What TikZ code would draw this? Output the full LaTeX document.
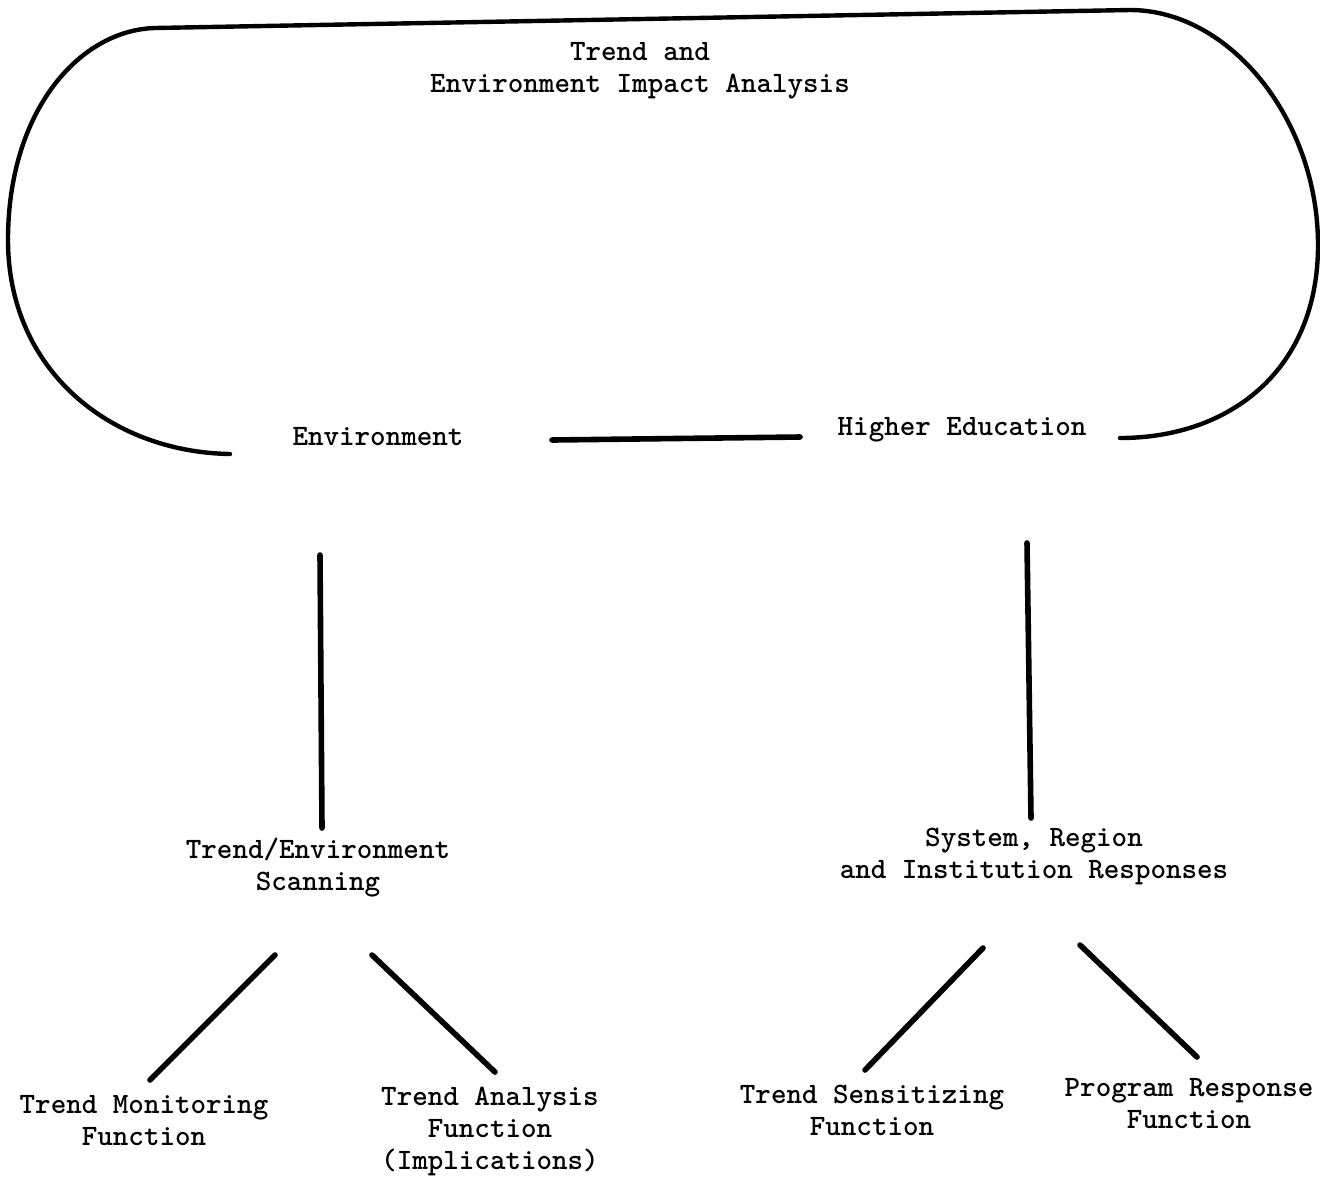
\documentclass[tikz,border=0pt]{standalone}
\usepackage{fontspec}
\tikzset{
  label/.style={font=\fontsize{14.8}{16}\selectfont\ttfamily\bfseries, align=center, inner sep=0pt},
  link/.style={line width=2.8pt, line cap=round},
  loop/.style={line width=2.2pt, line cap=round}
}
\begin{document}
\begin{tikzpicture}[x=0.5pt, y=-0.5pt]
    \useasboundingbox (0,0) rectangle (1320,1180);
    % outer loop
    \draw[loop] (230,454) .. controls (110,452) and (8,370) .. (8,240)
        .. controls (8,110) and (80,30) .. (155,28) -- (1130,10)
        .. controls (1230,10) and (1318,120) .. (1318,245)
        .. controls (1318,370) and (1230,438) .. (1120,438);
    % labels
    \node[label] (title) at (640,71) {Trend and\\Environment Impact Analysis};
    \node[label] (env) at (378,437) {Environment};
    \node[label] (hied) at (962,430) {Higher Education};
    \node[label] (scan) at (318,868) {Trend/Environment\\Scanning};
    \node[label] (resp) at (1034,856) {System, Region\\and Institution Responses};
    \node[label] (mon) at (144,1121) {Trend Monitoring\\Function};
    \node[label] (ana) at (490,1131) {Trend Analysis\\Function\\(Implications)};
    \node[label] (sens) at (872,1110) {Trend Sensitizing\\Function};
    \node[label] (prog) at (1189,1104) {Program Response\\Function};
    % line ends
    \coordinate (envR) at (552,440);
    \coordinate (hiedL) at (800,437);
    \coordinate (envD) at (320,555);
    \coordinate (scanU) at (322,828);
    \coordinate (hiedD) at (1027,543);
    \coordinate (respU) at (1031,818);
    \coordinate (scanL) at (275,955);
    \coordinate (monU) at (150,1080);
    \coordinate (scanR) at (372,955);
    \coordinate (anaU) at (495,1072);
    \coordinate (respL) at (983,948);
    \coordinate (sensU) at (865,1070);
    \coordinate (respR) at (1080,945);
    \coordinate (progU) at (1197,1057);
    % connectors
    \draw[link] (envR) -- (hiedL);
    \draw[link] (envD) -- (scanU);
    \draw[link] (hiedD) -- (respU);
    \draw[link] (scanL) -- (monU);
    \draw[link] (scanR) -- (anaU);
    \draw[link] (respL) -- (sensU);
    \draw[link] (respR) -- (progU);
\end{tikzpicture}
\end{document}
